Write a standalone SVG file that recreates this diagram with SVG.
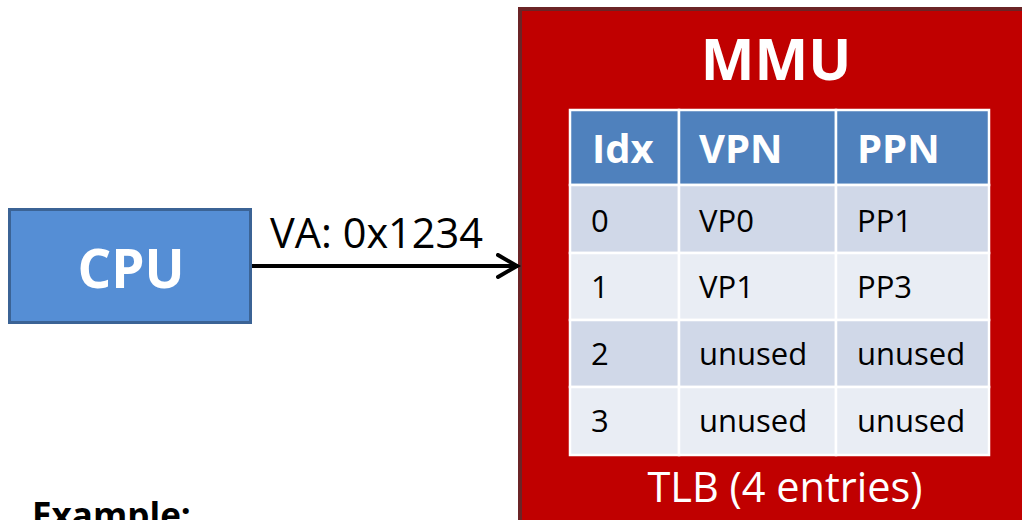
<svg xmlns="http://www.w3.org/2000/svg" width="1022" height="520" viewBox="0 0 1022 520">
<style>
.cell{stroke:#ffffff;stroke-width:2.5}
.hd{fill:#4f81bd}
.r1{fill:#d0d8e8}
.r2{fill:#e9edf4}
.ht{font-family:"Open Sans","Liberation Sans",sans-serif;font-weight:bold;font-size:40px;fill:#ffffff}
.ct{font-family:"Open Sans","Liberation Sans",sans-serif;font-size:31px;fill:#000000}
</style>
<defs>
<marker id="arr" markerWidth="26" markerHeight="30" refX="22" refY="13" orient="auto" markerUnits="userSpaceOnUse">
<path d="M2,2 L21,13 L2,24" fill="none" stroke="#000" stroke-width="4" stroke-linecap="round" stroke-linejoin="miter"/>
</marker>
</defs>
<rect width="1022" height="520" fill="#ffffff"/>
<g id="cpu">
<rect x="9.5" y="209.5" width="241" height="113" fill="#558ed5" stroke="#3b6395" stroke-width="3"/>
<text x="131" y="288" text-anchor="middle" font-family="'Open Sans','Liberation Sans',sans-serif" font-weight="bold" font-size="53" fill="#ffffff">CPU</text>
</g>
<g id="mmu">
<rect x="520" y="9" width="520" height="530" fill="#c00000" stroke="#6b2426" stroke-width="4"/>
<text x="776" y="80" text-anchor="middle" font-family="'Open Sans','Liberation Sans',sans-serif" font-weight="bold" font-size="57" fill="#ffffff">MMU</text>
<g id="tlb">
<rect class="cell hd" x="570" y="110" width="109" height="75"/>
<rect class="cell hd" x="679" y="110" width="157" height="75"/>
<rect class="cell hd" x="836" y="110" width="153" height="75"/>
<rect class="cell r1" x="570" y="185" width="109" height="68"/>
<rect class="cell r1" x="679" y="185" width="157" height="68"/>
<rect class="cell r1" x="836" y="185" width="153" height="68"/>
<rect class="cell r2" x="570" y="253" width="109" height="67"/>
<rect class="cell r2" x="679" y="253" width="157" height="67"/>
<rect class="cell r2" x="836" y="253" width="153" height="67"/>
<rect class="cell r1" x="570" y="320" width="109" height="67"/>
<rect class="cell r1" x="679" y="320" width="157" height="67"/>
<rect class="cell r1" x="836" y="320" width="153" height="67"/>
<rect class="cell r2" x="570" y="387" width="109" height="68"/>
<rect class="cell r2" x="679" y="387" width="157" height="68"/>
<rect class="cell r2" x="836" y="387" width="153" height="68"/>
<text class="ht" x="592" y="163">Idx</text>
<text class="ht" x="699" y="163">VPN</text>
<text class="ht" x="857" y="163">PPN</text>
<text class="ct" x="591" y="232">0</text>
<text class="ct" x="699" y="232">VP0</text>
<text class="ct" x="857" y="232">PP1</text>
<text class="ct" x="591" y="298">1</text>
<text class="ct" x="699" y="298">VP1</text>
<text class="ct" x="857" y="298">PP3</text>
<text class="ct" x="591" y="365">2</text>
<text class="ct" x="699" y="365">unused</text>
<text class="ct" x="857" y="365">unused</text>
<text class="ct" x="591" y="432">3</text>
<text class="ct" x="699" y="432">unused</text>
<text class="ct" x="857" y="432">unused</text>
</g>
<text x="785" y="502" text-anchor="middle" font-family="'Open Sans','Liberation Sans',sans-serif" font-size="41.5" fill="#ffffff">TLB (4 entries)</text>
</g>
<g id="connectors">
<line x1="252" y1="266" x2="518" y2="266" stroke="#000" stroke-width="4" marker-end="url(#arr)"/>
<text x="270" y="248" font-family="'Open Sans','Liberation Sans',sans-serif" font-size="41.5" fill="#000">VA: 0x1234</text>
</g>
<g id="example">
<text x="32" y="528" font-family="'Open Sans','Liberation Sans',sans-serif" font-weight="bold" font-size="35" fill="#000">Example:</text>
</g>
</svg>
